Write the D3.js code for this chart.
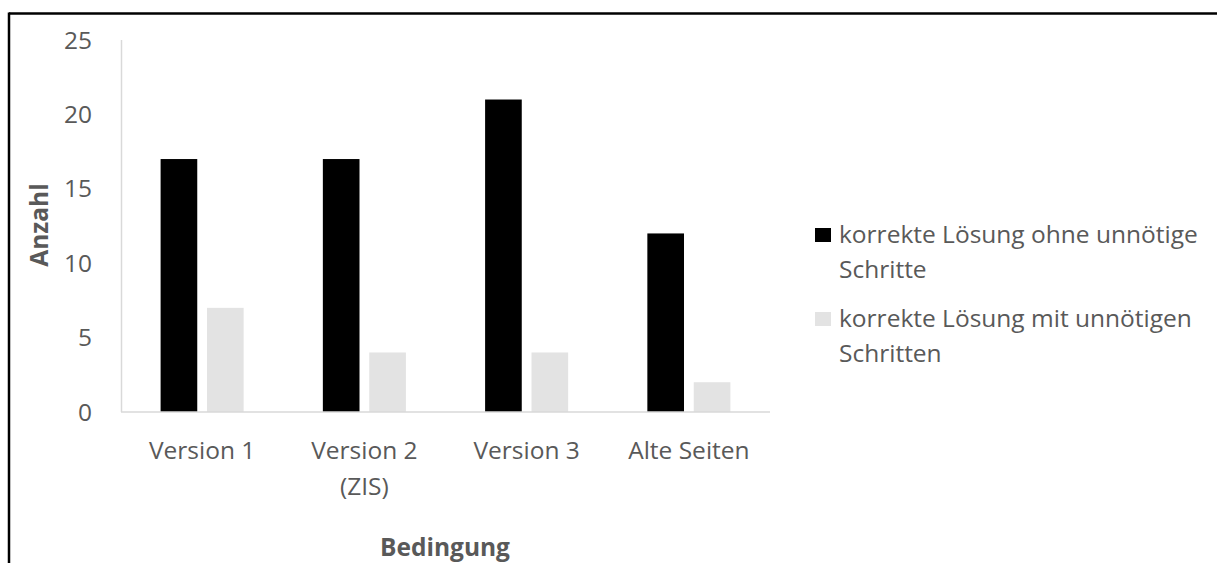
<!DOCTYPE html>
<html><head><meta charset="utf-8">
<script src="https://cdn.jsdelivr.net/npm/d3@7"></script>
<style>body{margin:0;background:#fff}svg{display:block}</style>
</head><body>
<script>
const categories = [["Version 1"], ["Version 2", "(ZIS)"], ["Version 3"], ["Alte Seiten"]];
const seriesNames = ["korrekte Lösung ohne unnötige Schritte", "korrekte Lösung mit unnötigen Schritten"];
const seriesA = [17, 17, 21, 12];
const seriesB = [7, 4, 4, 2];
const yTicks = [0, 5, 10, 15, 20, 25];
const legendLines = [["korrekte Lösung ohne unnötige", "Schritte"], ["korrekte Lösung mit unnötigen", "Schritten"]];
const colors = ["#000000", "#e3e3e3"];

const W = 1217, H = 563;
const font = "'Open Sans', sans-serif";
const fs = 24.5;
const txt = "#595959";
const svg = d3.select("body").append("svg").attr("width", W).attr("height", H);

// border
svg.append("line").attr("x1", 9).attr("x2", W).attr("y1", 13.5).attr("y2", 13.5).attr("stroke", "#000").attr("stroke-width", 2.5);
svg.append("line").attr("x1", 9).attr("x2", 9).attr("y1", 12.5).attr("y2", H).attr("stroke", "#000").attr("stroke-width", 2.5);

const x0 = d3.scaleBand().domain(d3.range(categories.length)).range([121, 770]).paddingInner(0).paddingOuter(0);
const x1 = d3.scaleBand().domain([0, 1]).range([39.6, x0.bandwidth() - 39.6]).paddingInner(0.21);
const y = d3.scaleLinear().domain([0, 25]).range([412, 40]);

// y axis line
svg.append("line").attr("x1", 121.5).attr("x2", 121.5).attr("y1", 40).attr("y2", 412).attr("stroke", "#d9d9d9").attr("stroke-width", 1.5);

const data = categories.map((c, i) => [seriesA[i], seriesB[i]]);
const g = svg.selectAll("g.cat").data(data).enter().append("g").attr("transform", (d, i) => `translate(${x0(i)},0)`);
g.selectAll("rect").data(d => d).enter().append("rect")
  .attr("x", (d, j) => x1(j)).attr("width", x1.bandwidth())
  .attr("y", d => y(d)).attr("height", d => y(0) - y(d))
  .attr("fill", (d, j) => colors[j]);

// baseline
svg.append("line").attr("x1", 121).attr("x2", 770).attr("y1", 412).attr("y2", 412).attr("stroke", "#d9d9d9").attr("stroke-width", 1.5);

// y tick labels
svg.selectAll("text.yt").data(yTicks).enter().append("text")
  .attr("x", 92).attr("y", d => y(d)).attr("dy", "0.35em").attr("text-anchor", "end")
  .attr("font-family", font).attr("font-size", fs).attr("fill", txt).text(d => d);

// x labels
categories.forEach((lines, i) => {
  const t = svg.append("text").attr("x", x0(i) + x0.bandwidth() / 2).attr("y", 459)
    .attr("text-anchor", "middle").attr("font-family", font).attr("font-size", fs).attr("fill", txt);
  lines.forEach((l, k) => t.append("tspan").attr("x", x0(i) + x0.bandwidth() / 2).attr("dy", k ? 36 : 0).text(l));
});

// axis titles
svg.append("text").attr("transform", "translate(48,225) rotate(-90)").attr("text-anchor", "middle")
  .attr("font-family", font).attr("font-size", fs).attr("font-weight", "bold").attr("fill", txt).text("Anzahl");
svg.append("text").attr("x", 445).attr("y", 556).attr("text-anchor", "middle")
  .attr("font-family", font).attr("font-size", fs).attr("font-weight", "bold").attr("fill", txt).text("Bedingung");

// legend
const legY = [228, 312];
legendLines.forEach((lines, i) => {
  svg.append("rect").attr("x", 815).attr("y", legY[i]).attr("width", 16).attr("height", 14).attr("fill", colors[i]);
  const t = svg.append("text").attr("x", 839).attr("y", legY[i] + 15).attr("font-family", font).attr("font-size", fs).attr("fill", txt);
  lines.forEach((l, k) => t.append("tspan").attr("x", 839).attr("dy", k ? 34.5 : 0).text(l));
});
</script>
</body></html>
